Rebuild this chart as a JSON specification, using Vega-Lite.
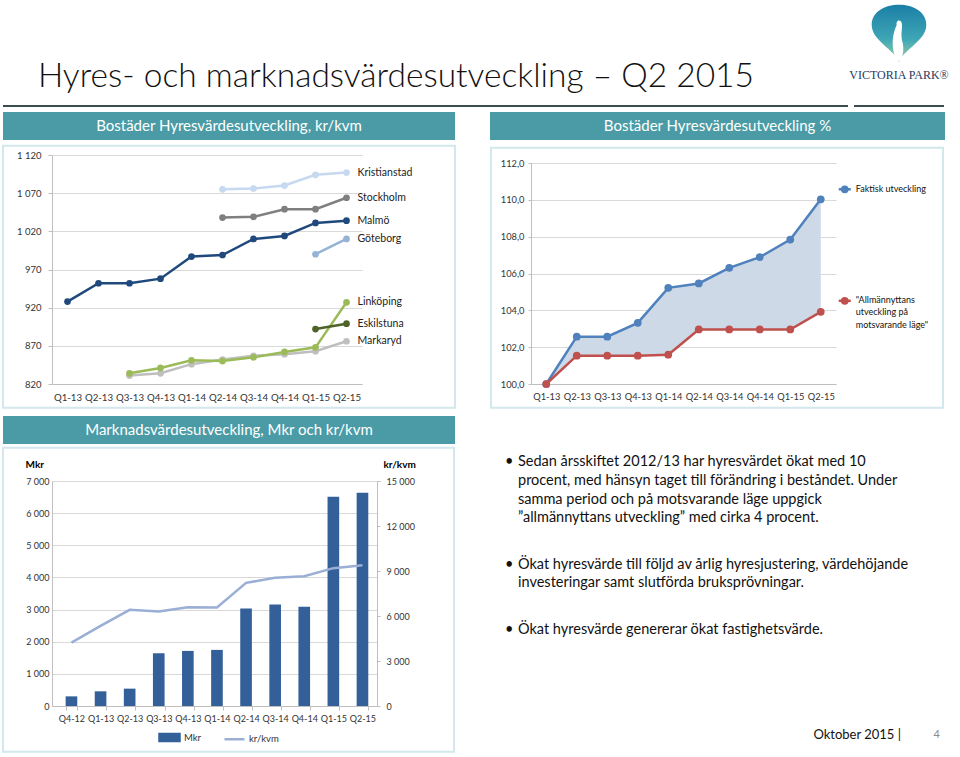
{
  "$schema": "https://vega.github.io/schema/vega-lite/v6.json",
  "background": "white",
  "autosize": {"type": "pad"},
  "padding": {"left": 2, "top": 4, "right": 5, "bottom": 3},
  "config": {
    "font": "Lato",
    "view": {"stroke": null},
    "locale": {"number": {"decimal": ",", "thousands": " ", "grouping": [3], "currency": ["", ""]}},
    "axis": {"labelFont": "Lato", "titleFont": "Lato", "labelColor": "#333333", "domainColor": "#bfbfbf", "tickColor": "#bfbfbf", "gridColor": "#d9d9d9"},
    "text": {"font": "Lato"}
  },
  "datasets": {
    "rent": [
      {"city": "Malmö", "q": "Q1-13", "v": 928}, {"city": "Malmö", "q": "Q2-13", "v": 952}, {"city": "Malmö", "q": "Q3-13", "v": 952}, {"city": "Malmö", "q": "Q4-13", "v": 958}, {"city": "Malmö", "q": "Q1-14", "v": 987}, {"city": "Malmö", "q": "Q2-14", "v": 989}, {"city": "Malmö", "q": "Q3-14", "v": 1010}, {"city": "Malmö", "q": "Q4-14", "v": 1014}, {"city": "Malmö", "q": "Q1-15", "v": 1031}, {"city": "Malmö", "q": "Q2-15", "v": 1034},
      {"city": "Kristianstad", "q": "Q2-14", "v": 1075}, {"city": "Kristianstad", "q": "Q3-14", "v": 1076}, {"city": "Kristianstad", "q": "Q4-14", "v": 1080}, {"city": "Kristianstad", "q": "Q1-15", "v": 1094}, {"city": "Kristianstad", "q": "Q2-15", "v": 1097},
      {"city": "Stockholm", "q": "Q2-14", "v": 1038}, {"city": "Stockholm", "q": "Q3-14", "v": 1039}, {"city": "Stockholm", "q": "Q4-14", "v": 1049}, {"city": "Stockholm", "q": "Q1-15", "v": 1049}, {"city": "Stockholm", "q": "Q2-15", "v": 1064},
      {"city": "Göteborg", "q": "Q1-15", "v": 990}, {"city": "Göteborg", "q": "Q2-15", "v": 1010},
      {"city": "Markaryd", "q": "Q3-13", "v": 831}, {"city": "Markaryd", "q": "Q4-13", "v": 834}, {"city": "Markaryd", "q": "Q1-14", "v": 846}, {"city": "Markaryd", "q": "Q2-14", "v": 852}, {"city": "Markaryd", "q": "Q3-14", "v": 857}, {"city": "Markaryd", "q": "Q4-14", "v": 859}, {"city": "Markaryd", "q": "Q1-15", "v": 863}, {"city": "Markaryd", "q": "Q2-15", "v": 876},
      {"city": "Linköping", "q": "Q3-13", "v": 834}, {"city": "Linköping", "q": "Q4-13", "v": 841}, {"city": "Linköping", "q": "Q1-14", "v": 851}, {"city": "Linköping", "q": "Q2-14", "v": 850}, {"city": "Linköping", "q": "Q3-14", "v": 855}, {"city": "Linköping", "q": "Q4-14", "v": 862}, {"city": "Linköping", "q": "Q1-15", "v": 868}, {"city": "Linköping", "q": "Q2-15", "v": 927},
      {"city": "Eskilstuna", "q": "Q1-15", "v": 892}, {"city": "Eskilstuna", "q": "Q2-15", "v": 899}
    ],
    "idx": [
      {"q": "Q1-13", "faktisk": 100.0, "allm": 100.0},
      {"q": "Q2-13", "faktisk": 102.57, "allm": 101.54},
      {"q": "Q3-13", "faktisk": 102.57, "allm": 101.54},
      {"q": "Q4-13", "faktisk": 103.32, "allm": 101.54},
      {"q": "Q1-14", "faktisk": 105.22, "allm": 101.59},
      {"q": "Q2-14", "faktisk": 105.46, "allm": 102.96},
      {"q": "Q3-14", "faktisk": 106.31, "allm": 102.96},
      {"q": "Q4-14", "faktisk": 106.89, "allm": 102.96},
      {"q": "Q1-15", "faktisk": 107.84, "allm": 102.96},
      {"q": "Q2-15", "faktisk": 110.03, "allm": 103.92}
    ],
    "market": [
      {"q": "Q4-12", "mkr": 300, "krkvm": 4230},
      {"q": "Q1-13", "mkr": 457, "krkvm": 5340},
      {"q": "Q2-13", "mkr": 540, "krkvm": 6410},
      {"q": "Q3-13", "mkr": 1641, "krkvm": 6300},
      {"q": "Q4-13", "mkr": 1714, "krkvm": 6590},
      {"q": "Q1-14", "mkr": 1745, "krkvm": 6565},
      {"q": "Q2-14", "mkr": 3032, "krkvm": 8210},
      {"q": "Q3-14", "mkr": 3157, "krkvm": 8545},
      {"q": "Q4-14", "mkr": 3084, "krkvm": 8655},
      {"q": "Q1-15", "mkr": 6512, "krkvm": 9190},
      {"q": "Q2-15", "mkr": 6636, "krkvm": 9390}
    ],
    "bullets": [
      {"p": 1, "i": 0, "b": "•", "t": "Sedan årsskiftet 2012/13 har hyresvärdet ökat med 10"},
      {"p": 1, "i": 1, "b": "", "t": "procent, med hänsyn taget till förändring i beståndet. Under"},
      {"p": 1, "i": 2, "b": "", "t": "samma period och på motsvarande läge uppgick"},
      {"p": 1, "i": 3, "b": "", "t": "”allmännyttans utveckling” med cirka 4 procent."},
      {"p": 2, "i": 0, "b": "•", "t": "Ökat hyresvärde till följd av årlig hyresjustering, värdehöjande"},
      {"p": 2, "i": 1, "b": "", "t": "investeringar samt slutförda bruksprövningar."},
      {"p": 3, "i": 0, "b": "•", "t": "Ökat hyresvärde genererar ökat fastighetsvärde."}
    ]
  },
  "resolve": {"scale": {"color": "independent"}, "legend": {"color": "independent"}},
  "vconcat": [
    {
      "hconcat": [
        {
          "width": 796, "height": 2,
          "data": {"values": [{}]},
          "title": {"text": "Hyres- och marknadsvärdesutveckling – Q2 2015", "anchor": "start", "dx": 35, "offset": -15.5, "baseline": "alphabetic", "fontSize": 33.5, "fontWeight": 300, "font": "Lato", "color": "#111111"},
          "mark": {"type": "rect", "color": "#3b4d50"},
          "encoding": {
            "x": {"datum": 0, "type": "quantitative", "scale": {"domain": [0, 1], "range": [-49, 796]}, "axis": null},
            "x2": {"datum": 1}
          }
        },
        {
          "width": 90, "height": 2,
          "view": {"fill": "#3b4d50", "stroke": null},
          "data": {"values": [{"logo": "VICTORIA PARK®"}]},
          "layer": [
            {"mark": {"type": "point", "shape": "M0,1 C-0.15,0.55 -0.95,0.25 -0.95,-0.3 C-0.95,-0.75 -0.5,-1 0,-1 C0.5,-1 0.95,-0.75 0.95,-0.3 C0.95,0.25 0.15,0.55 0,1 Z", "size": 3300, "filled": true, "opacity": 1, "strokeWidth": 0, "fill": {"gradient": "linear", "x1": 0, "y1": 0, "x2": 0, "y2": 1, "stops": [{"offset": 0, "color": "#1b7fa6"}, {"offset": 0.6, "color": "#3fa6b5"}, {"offset": 1, "color": "#9fd3a8"}]}, "yOffset": -72.5}, "encoding": {}},
            {"mark": {"type": "point", "shape": "M-0.1,0.95 C-0.3,0.4 -0.22,0 -0.08,-0.3 C-0.12,-0.45 0.04,-0.52 0.09,-0.38 C0.14,-0.2 0.04,0 0.12,0.3 C0.2,0.6 0.1,0.8 0.1,0.95 Z", "size": 3300, "filled": true, "opacity": 1, "strokeWidth": 0, "fill": "white", "yOffset": -72.5}, "encoding": {}},
            {"mark": {"type": "text", "font": "Liberation Serif", "fontSize": 12, "color": "#1f3a5f", "dy": -27.5, "baseline": "alphabetic"}, "encoding": {"text": {"field": "logo", "type": "nominal"}}}
          ]
        }
      ],
      "spacing": 0
    },
    {
      "resolve": {"scale": {"color": "independent"}, "legend": {"color": "independent"}},
      "vconcat": [
        {
          "hconcat": [
            {
              "vconcat": [
                {
                  "width": 403, "height": 28,
                  "data": {"values": [{"t": "Bostäder Hyresvärdesutveckling, kr/kvm"}]},
                  "layer": [
                    {"mark": {"type": "rect", "color": "#4a9ba6"}, "encoding": {"x": {"datum": 0, "type": "quantitative", "scale": {"domain": [0, 1], "range": [-49, 403]}, "axis": null}, "x2": {"datum": 1}}},
                    {"mark": {"type": "text", "color": "white", "fontSize": 15, "baseline": "middle"}, "encoding": {"x": {"datum": 0.5, "type": "quantitative"}, "text": {"field": "t", "type": "nominal"}}}
                  ]
                },
                {
                  "width": 310, "height": 229,
                  "layer": [
                    {
                      "data": {"values": [{}]},
                      "mark": {"type": "rect", "filled": false, "color": "#d3e8ec", "strokeWidth": 2},
                      "encoding": {
                        "x": {"datum": 0, "type": "quantitative", "scale": {"domain": [0, 1], "range": [-49, 403]}, "axis": null}, "x2": {"datum": 1},
                        "y": {"datum": 0, "type": "quantitative", "scale": {"domain": [0, 1], "range": [-9.3, 252.7]}, "axis": null}, "y2": {"datum": 1}
                      }
                    },
                    {
                      "data": {"name": "rent"},
                      "encoding": {
                        "x": {"field": "q", "type": "ordinal", "scale": {"type": "point", "domain": ["Q1-13", "Q2-13", "Q3-13", "Q4-13", "Q1-14", "Q2-14", "Q3-14", "Q4-14", "Q1-15", "Q2-15"], "padding": 0.5}, "axis": {"title": null, "labelAngle": 0, "ticks": false, "labelPadding": 8, "labelFontSize": 9.7}},
                        "y": {"field": "v", "type": "quantitative", "scale": {"domain": [820, 1120], "nice": false, "zero": false}, "axis": {"title": null, "values": [820, 870, 920, 970, 1020, 1070, 1120], "format": ",d", "grid": true, "tickSize": 4, "labelPadding": 7, "labelFontSize": 9.5, "minExtent": 49}},
                        "color": {"field": "city", "type": "nominal", "scale": {"domain": ["Kristianstad", "Stockholm", "Malmö", "Göteborg", "Markaryd", "Linköping", "Eskilstuna"], "range": ["#c6d9f0", "#7f7f7f", "#1f497d", "#95b3d7", "#bfbfbf", "#9bbb59", "#4f6228"]}, "legend": null}
                      },
                      "layer": [
                        {"mark": {"type": "line", "strokeWidth": 2.5, "point": {"filled": true, "size": 45}}},
                        {"transform": [{"filter": "datum.q === 'Q2-15'"}], "mark": {"type": "text", "align": "left", "baseline": "middle", "dx": 11, "fontSize": 10.5}, "encoding": {"text": {"field": "city", "type": "nominal"}, "color": {"value": "#222222"}}}
                      ]
                    }
                  ],
                  "resolve": {"scale": {"x": "independent", "y": "independent"}}
                }
              ],
              "spacing": 4
            },
            {
              "vconcat": [
                {
                  "width": 414, "height": 28,
                  "data": {"values": [{"t": "Bostäder Hyresvärdesutveckling %"}]},
                  "layer": [
                    {"mark": {"type": "rect", "color": "#4a9ba6"}, "encoding": {"x": {"datum": 0, "type": "quantitative", "scale": {"domain": [0, 1], "range": [-41, 414]}, "axis": null}, "x2": {"datum": 1}}},
                    {"mark": {"type": "text", "color": "white", "fontSize": 15, "baseline": "middle"}, "encoding": {"x": {"datum": 0.5, "type": "quantitative"}, "text": {"field": "t", "type": "nominal"}}}
                  ]
                },
                {
                  "width": 305, "height": 221,
                  "layer": [
                    {
                      "data": {"values": [{}]},
                      "mark": {"type": "rect", "filled": false, "color": "#d3e8ec", "strokeWidth": 2},
                      "encoding": {
                        "x": {"datum": 0, "type": "quantitative", "scale": {"domain": [0, 1], "range": [-40, 412]}, "axis": null}, "x2": {"datum": 1},
                        "y": {"datum": 0, "type": "quantitative", "scale": {"domain": [0, 1], "range": [-15.3, 244.7]}, "axis": null}, "y2": {"datum": 1}
                      }
                    },
                    {
                      "data": {"name": "idx"},
                      "encoding": {
                        "x": {"field": "q", "type": "ordinal", "scale": {"type": "point", "domain": ["Q1-13", "Q2-13", "Q3-13", "Q4-13", "Q1-14", "Q2-14", "Q3-14", "Q4-14", "Q1-15", "Q2-15"], "padding": 0.5}, "axis": {"title": null, "labelAngle": 0, "ticks": false, "labelPadding": 8, "labelFontSize": 9.3}}
                      },
                      "layer": [
                        {"mark": {"type": "area", "color": "#cdd9e6", "opacity": 1}, "encoding": {"y": {"field": "faktisk", "type": "quantitative", "scale": {"domain": [100, 112], "nice": false, "zero": false}, "axis": {"title": null, "values": [100, 102, 104, 106, 108, 110, 112], "format": ".1f", "grid": true, "tickSize": 3, "labelPadding": 4, "labelFontSize": 9.3, "minExtent": 41}}, "y2": {"field": "allm"}}},
                        {"mark": {"type": "line", "color": "#4f81bd", "strokeWidth": 2.5, "point": {"filled": true, "size": 60, "color": "#4f81bd"}}, "encoding": {"y": {"field": "faktisk", "type": "quantitative", "axis": {"title": null, "values": [100, 102, 104, 106, 108, 110, 112], "format": ".1f", "grid": true, "tickSize": 3, "labelPadding": 4, "labelFontSize": 9.3, "minExtent": 41}}}},
                        {"mark": {"type": "line", "color": "#c0504d", "strokeWidth": 2.5, "point": {"filled": true, "size": 60, "color": "#c0504d"}}, "encoding": {"y": {"field": "allm", "type": "quantitative", "axis": {"title": null, "values": [100, 102, 104, 106, 108, 110, 112], "format": ".1f", "grid": true, "tickSize": 3, "labelPadding": 4, "labelFontSize": 9.3, "minExtent": 41}}}},
                        {
                          "transform": [{"filter": "datum.q === 'Q2-15'"}],
                          "layer": [
                            {"mark": {"type": "rule", "color": "#4f81bd", "strokeWidth": 2.5, "xOffset": 18, "x2Offset": 30, "yOffset": -10, "y2Offset": -10}, "encoding": {"x2": {"field": "q"}, "y": {"field": "faktisk", "type": "quantitative", "axis": {"title": null, "values": [100, 102, 104, 106, 108, 110, 112], "format": ".1f", "grid": true, "tickSize": 3, "labelPadding": 4, "labelFontSize": 9.3, "minExtent": 41}}, "y2": {"field": "faktisk"}}},
                            {"mark": {"type": "point", "filled": true, "size": 60, "opacity": 1, "color": "#4f81bd", "xOffset": 24, "yOffset": -10}, "encoding": {"y": {"field": "faktisk", "type": "quantitative", "axis": {"title": null, "values": [100, 102, 104, 106, 108, 110, 112], "format": ".1f", "grid": true, "tickSize": 3, "labelPadding": 4, "labelFontSize": 9.3, "minExtent": 41}}}},
                            {"mark": {"type": "text", "align": "left", "baseline": "middle", "dx": 35, "dy": -10, "fontSize": 9, "color": "#111111"}, "encoding": {"y": {"field": "faktisk", "type": "quantitative", "axis": {"title": null, "values": [100, 102, 104, 106, 108, 110, 112], "format": ".1f", "grid": true, "tickSize": 3, "labelPadding": 4, "labelFontSize": 9.3, "minExtent": 41}}, "text": {"value": "Faktisk utveckling"}}},
                            {"mark": {"type": "rule", "color": "#c0504d", "strokeWidth": 2.5, "xOffset": 18, "x2Offset": 30, "yOffset": -11, "y2Offset": -11}, "encoding": {"x2": {"field": "q"}, "y": {"field": "allm", "type": "quantitative", "axis": {"title": null, "values": [100, 102, 104, 106, 108, 110, 112], "format": ".1f", "grid": true, "tickSize": 3, "labelPadding": 4, "labelFontSize": 9.3, "minExtent": 41}}, "y2": {"field": "allm"}}},
                            {"mark": {"type": "point", "filled": true, "size": 60, "opacity": 1, "color": "#c0504d", "xOffset": 24, "yOffset": -11}, "encoding": {"y": {"field": "allm", "type": "quantitative", "axis": {"title": null, "values": [100, 102, 104, 106, 108, 110, 112], "format": ".1f", "grid": true, "tickSize": 3, "labelPadding": 4, "labelFontSize": 9.3, "minExtent": 41}}}},
                            {"mark": {"type": "text", "align": "left", "baseline": "top", "dx": 35, "dy": -16, "fontSize": 9, "lineHeight": 12.5, "lineBreak": "\n", "color": "#111111"}, "encoding": {"y": {"field": "allm", "type": "quantitative", "axis": {"title": null, "values": [100, 102, 104, 106, 108, 110, 112], "format": ".1f", "grid": true, "tickSize": 3, "labelPadding": 4, "labelFontSize": 9.3, "minExtent": 41}}, "text": {"value": "\"Allmännyttans\nutveckling på\nmotsvarande läge\""}}}
                          ]
                        }
                      ]
                    }
                  ],
                  "resolve": {"scale": {"x": "independent", "y": "independent"}}
                }
              ],
              "spacing": 6
            }
          ],
          "spacing": 34
        },
        {
          "hconcat": [
            {
              "vconcat": [
                {
                  "width": 403, "height": 28,
                  "data": {"values": [{"t": "Marknadsvärdesutveckling, Mkr och kr/kvm"}]},
                  "layer": [
                    {"mark": {"type": "rect", "color": "#4a9ba6"}, "encoding": {"x": {"datum": 0, "type": "quantitative", "scale": {"domain": [0, 1], "range": [-49, 403]}, "axis": null}, "x2": {"datum": 1}}},
                    {"mark": {"type": "text", "color": "white", "fontSize": 15, "baseline": "middle"}, "encoding": {"x": {"datum": 0.5, "type": "quantitative"}, "text": {"field": "t", "type": "nominal"}}}
                  ]
                },
                {
                  "width": 325, "height": 225,
                  "layer": [
                    {
                      "data": {"values": [{}]},
                      "mark": {"type": "rect", "filled": false, "color": "#d3e8ec", "strokeWidth": 2},
                      "encoding": {
                        "x": {"datum": 0, "type": "quantitative", "scale": {"domain": [0, 1], "range": [-49, 402]}, "axis": null}, "x2": {"datum": 1},
                        "y": {"datum": 0, "type": "quantitative", "scale": {"domain": [0, 1], "range": [-33.3, 270.7]}, "axis": null}, "y2": {"datum": 1}
                      }
                    },
                    {
                      "data": {"name": "market"},
                      "encoding": {
                        "x": {"field": "q", "type": "ordinal", "sort": null, "scale": {"type": "band", "paddingInner": 0.6, "paddingOuter": 0.384, "align": 0.61}, "axis": {"title": null, "labelAngle": 0, "tickBand": "extent", "ticks": true, "tickSize": 4, "labelPadding": 4, "labelFontSize": 9}}
                      },
                      "layer": [
                        {
                          "mark": {"type": "bar"},
                          "encoding": {
                            "y": {"field": "mkr", "type": "quantitative", "scale": {"domain": [0, 7000], "nice": false}, "axis": {"title": "Mkr", "titleAngle": 0, "titleAlign": "left", "titleBaseline": "middle", "titleX": -27, "titleY": -17, "titleFontWeight": "bold", "titleFontSize": 10, "titleColor": "#000000", "values": [0, 1000, 2000, 3000, 4000, 5000, 6000, 7000], "format": ",d", "grid": true, "ticks": false, "labelPadding": 3, "labelFontSize": 9, "minExtent": 49}},
                            "color": {"datum": "Mkr", "type": "nominal", "scale": {"domain": ["Mkr", "kr/kvm"], "range": ["#34609a", "#9aaed6"]}, "legend": {"title": null, "orient": "none", "legendX": 106, "legendY": 310, "direction": "horizontal", "padding": 0, "labelFontSize": 9.5, "labelColor": "#333333", "labelOffset": 3, "columnPadding": 17, "symbolSize": 400, "encode": {"symbols": {"update": {"shape": {"signal": "datum.value === 'Mkr' ? 'M-1,-0.35H1V0.35H-1Z' : 'M-1,0H1'"}, "fill": {"signal": "datum.value === 'Mkr' ? '#34609a' : 'transparent'"}, "stroke": {"signal": "datum.value === 'Mkr' ? 'transparent' : '#9aaed6'"}, "strokeWidth": {"value": 2.5}, "opacity": {"value": 1}}}}}}
                          }
                        },
                        {
                          "mark": {"type": "line", "strokeWidth": 2.5},
                          "encoding": {
                            "y": {"field": "krkvm", "type": "quantitative", "scale": {"domain": [0, 15000], "nice": false}, "axis": {"orient": "right", "title": "kr/kvm", "titleAngle": 0, "titleAlign": "left", "titleBaseline": "middle", "titleX": 6, "titleY": -17, "titleFontWeight": "bold", "titleFontSize": 10, "titleColor": "#000000", "values": [0, 3000, 6000, 9000, 12000, 15000], "format": ",d", "grid": false, "tickSize": 3, "labelPadding": 6, "labelFontSize": 9}},
                            "color": {"datum": "kr/kvm", "type": "nominal"}
                          }
                        }
                      ],
                      "resolve": {"scale": {"y": "independent"}}
                    }
                  ],
                  "resolve": {"scale": {"x": "independent", "y": "independent"}}
                }
              ],
              "spacing": 2
            },
            {
              "vconcat": [
                {
                  "vconcat": [
                    {
                      "width": 440, "height": 111.5,
                      "data": {"name": "bullets"},
                      "transform": [{"filter": "datum.p === 1"}],
                      "encoding": {
                        "x": {"datum": 0, "type": "quantitative", "scale": {"domain": [0, 1]}, "axis": null},
                        "y": {"field": "i", "type": "ordinal", "scale": {"type": "band", "paddingInner": 0, "paddingOuter": 1.09, "align": 1}, "axis": null}
                      },
                      "layer": [
                        {"mark": {"type": "text", "align": "left", "baseline": "middle", "dx": 15, "fontSize": 14.5, "color": "#111111"}, "encoding": {"text": {"field": "t", "type": "nominal"}}},
                        {"mark": {"type": "text", "align": "left", "baseline": "middle", "dx": 2, "fontSize": 14.5, "color": "#111111"}, "encoding": {"text": {"field": "b", "type": "nominal"}}}
                      ]
                    },
                    {
                      "width": 440, "height": 36.6,
                      "data": {"name": "bullets"},
                      "transform": [{"filter": "datum.p === 2"}],
                      "encoding": {
                        "x": {"datum": 0, "type": "quantitative", "scale": {"domain": [0, 1]}, "axis": null},
                        "y": {"field": "i", "type": "ordinal", "scale": {"type": "band", "paddingInner": 0, "paddingOuter": 0}, "axis": null}
                      },
                      "layer": [
                        {"mark": {"type": "text", "align": "left", "baseline": "middle", "dx": 15, "fontSize": 14.5, "color": "#111111"}, "encoding": {"text": {"field": "t", "type": "nominal"}}},
                        {"mark": {"type": "text", "align": "left", "baseline": "middle", "dx": 2, "fontSize": 14.5, "color": "#111111"}, "encoding": {"text": {"field": "b", "type": "nominal"}}}
                      ]
                    },
                    {
                      "width": 440, "height": 18.3,
                      "data": {"name": "bullets"},
                      "transform": [{"filter": "datum.p === 3"}],
                      "encoding": {
                        "x": {"datum": 0, "type": "quantitative", "scale": {"domain": [0, 1]}, "axis": null},
                        "y": {"field": "i", "type": "ordinal", "scale": {"type": "band", "paddingInner": 0, "paddingOuter": 0}, "axis": null}
                      },
                      "layer": [
                        {"mark": {"type": "text", "align": "left", "baseline": "middle", "dx": 15, "fontSize": 14.5, "color": "#111111"}, "encoding": {"text": {"field": "t", "type": "nominal"}}},
                        {"mark": {"type": "text", "align": "left", "baseline": "middle", "dx": 2, "fontSize": 14.5, "color": "#111111"}, "encoding": {"text": {"field": "b", "type": "nominal"}}}
                      ]
                    }
                  ],
                  "spacing": 28
                },
                {
                  "width": 440, "height": 18.3,
                  "data": {"values": [{"d": "Oktober 2015 |", "n": "4"}]},
                  "encoding": {"x": {"datum": 1, "type": "quantitative", "scale": {"domain": [0, 1]}, "axis": null}},
                  "layer": [
                    {"mark": {"type": "text", "align": "right", "baseline": "middle", "dx": -42, "fontSize": 13, "color": "#111111"}, "encoding": {"text": {"field": "d", "type": "nominal"}}},
                    {"mark": {"type": "text", "align": "right", "baseline": "middle", "dx": -3, "fontSize": 11, "color": "#8c8c8c"}, "encoding": {"text": {"field": "n", "type": "nominal"}}}
                  ]
                }
              ],
              "spacing": 85.5
            }
          ],
          "spacing": 48
        }
      ],
      "spacing": 7
    }
  ],
  "spacing": 5
}
